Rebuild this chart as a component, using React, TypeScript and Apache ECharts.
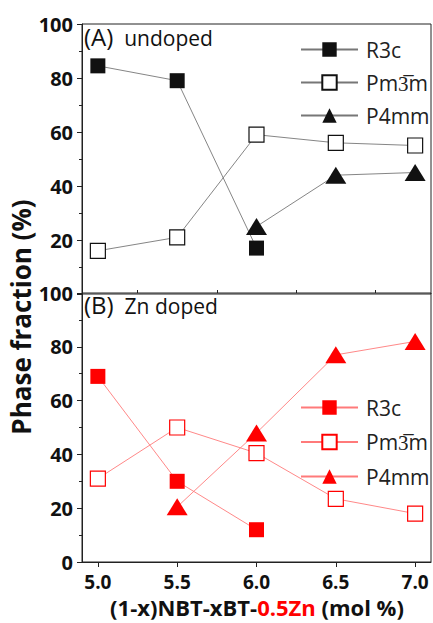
import React, { useEffect, useRef } from "react";
import * as echarts from "echarts";

const xValues = [5.0, 5.5, 6.0, 6.5, 7.0];
const xTickLabels = [5.0, 5.5, 6.0, 6.5, 7.0];
const xMinorTicks = [5.25, 5.75, 6.25, 6.75];
const phaseNames = ["R3c", "Pm3\u0305m", "P4mm"];

// Panel A (undoped)
const aR3c: (number | null)[] = [84.5, 79, 17, null, null];
const aPm3m: (number | null)[] = [16, 21, 59, 56, 55];
const aP4mm: (number | null)[] = [null, null, 25, 44, 45];

// Panel B (Zn doped)
const bR3c: (number | null)[] = [69, 30, 12, null, null];
const bPm3m: (number | null)[] = [31, 50, 40.5, 23.5, 18];
const bP4mm: (number | null)[] = [null, 20.5, 48, 77, 82];

const toPairs = (ys: (number | null)[]) =>
  xValues.map((x, i) => [x, ys[i] === null ? "-" : ys[i]]);

const FONT = "Open Sans";

export default function App() {
  const ref = useRef<HTMLDivElement>(null);
  useEffect(() => {
    if (!ref.current) return;
    const chart = echarts.init(ref.current, null, { renderer: "svg" });

    const gridLeft = 82;
    const gridW = 349;
    const black = "#111";
    const red = "#ff0000";
    const greyLine = "#777";
    const redLine = "#ff7a7a";

    const yAxisCommon = (gridIndex: number, hideZero: boolean) => ({
      type: "value",
      gridIndex,
      min: 0,
      max: 100,
      interval: 20,
      axisLine: { show: true, lineStyle: { color: "#222", width: 1 } },
      axisTick: { show: true, inside: false, length: 5, lineStyle: { color: "#222" } },
      minorTick: { show: true, splitNumber: 2, length: 3, lineStyle: { color: "#222" } },
      splitLine: { show: false },
      axisLabel: {
        fontFamily: FONT,
        fontWeight: "bold",
        fontSize: 20,
        color: black,
        margin: 9,
        formatter: (v: number) => (hideZero && v === 0 ? "" : String(v)),
      },
    });

    const mk = (
      name: string,
      ys: (number | null)[],
      symbol: string,
      size: any,
      color: string,
      lineColor: string,
      hollow: boolean,
      axisIdx: number
    ) => ({
      type: "line",
      name,
      xAxisIndex: axisIdx,
      yAxisIndex: axisIdx,
      data: toPairs(ys),
      symbol,
      symbolSize: size,
      showAllSymbol: true,
      connectNulls: false,
      lineStyle: { color: lineColor, width: 0.9 },
      itemStyle: hollow
        ? { color: "#fff", borderColor: color, borderWidth: 1.2 }
        : { color, borderColor: color, borderWidth: 0 },
      z: 3,
    });

    const legendCommon = {
      orient: "vertical",
      left: 295,
      itemWidth: 57,
      itemHeight: 18,
      formatter: (n: string) => phaseNames[["R3c", "Pm3m", "P4mm"].indexOf(n.slice(2))],
      textStyle: { fontFamily: FONT, fontSize: 21, lineHeight: 18, color: "#222", padding: [0, 0, 0, 3] },
    };

    const option: any = {
      animation: false,
      grid: [
        { left: gridLeft, top: 24, width: gridW, height: 270, show: true, borderColor: "#222", borderWidth: 1, backgroundColor: "transparent" },
        { left: gridLeft, top: 293, width: gridW, height: 269, show: true, borderColor: "#222", borderWidth: 1, backgroundColor: "transparent" },
      ],
      xAxis: [
        {
          type: "value",
          gridIndex: 0,
          min: 4.9,
          max: 7.1,
          axisLine: { show: false },
          axisTick: { show: false },
          axisLabel: { show: false },
          splitLine: { show: false },
        },
        {
          type: "value",
          gridIndex: 1,
          min: 4.9,
          max: 7.1,
          axisLine: { show: true, lineStyle: { color: "#222" } },
          axisTick: { show: true, length: 5, customValues: xTickLabels, lineStyle: { color: "#222" } },
          axisLabel: {
            customValues: xTickLabels,
            formatter: (v: number) => v.toFixed(1),
            fontFamily: FONT,
            fontWeight: "bold",
            fontSize: 19,
            color: black,
            margin: 10,
          },
          splitLine: { show: false },
        },
        {
          type: "value",
          gridIndex: 1,
          min: 4.9,
          max: 7.1,
          axisLine: { show: false },
          axisTick: { show: true, length: 3, customValues: xMinorTicks, lineStyle: { color: "#222" } },
          axisLabel: { show: false },
          splitLine: { show: false },
        },
      ],
      yAxis: [yAxisCommon(0, true), yAxisCommon(1, false)],
      legend: [
        { ...legendCommon, top: 34, itemGap: 12, data: ["A-R3c", "A-Pm3m", "A-P4mm"] },
        { ...legendCommon, top: 392, itemGap: 13.5, data: ["B-R3c", "B-Pm3m", "B-P4mm"] },
      ],
      series: [
        mk("A-R3c", aR3c, "rect", 15, black, greyLine, false, 0),
        mk("A-Pm3m", aPm3m, "rect", 15, black, greyLine, true, 0),
        mk("A-P4mm", aP4mm, "triangle", [21, 17], black, greyLine, false, 0),
        mk("B-R3c", bR3c, "rect", 15, red, redLine, false, 1),
        mk("B-Pm3m", bPm3m, "rect", 15, red, redLine, true, 1),
        mk("B-P4mm", bP4mm, "triangle", [21, 17], red, redLine, false, 1),
      ],
      graphic: [
        {
          type: "text",
          left: 84,
          top: 24,
          style: {
            text: "{b|(A)}{t|  undoped}",
            rich: {
              b: { fontFamily: FONT, fontSize: 24, fill: "#111", verticalAlign: "bottom" },
              t: { fontFamily: FONT, fontSize: 21, fill: "#111", verticalAlign: "bottom" },
            },
          },
        },
        {
          type: "text",
          left: 84,
          top: 292,
          style: {
            text: "{b|(B)}{t|  Zn doped}",
            rich: {
              b: { fontFamily: FONT, fontSize: 24, fill: "#111", verticalAlign: "bottom" },
              t: { fontFamily: FONT, fontSize: 21, fill: "#111", verticalAlign: "bottom" },
            },
          },
        },
        {
          type: "text",
          x: 21,
          y: 317,
          rotation: Math.PI / 2,
          style: {
            text: "Phase fraction (%)",
            fontFamily: FONT,
            fontWeight: "bold",
            fontSize: 26,
            fill: "#111",
            align: "center",
            verticalAlign: "middle",
          },
        },
        {
          type: "text",
          x: 257,
          y: 607,
          style: {
            text: "{a|(1-x)NBT-xBT-}{r|0.5Zn}{a| (mol %)}",
            align: "center",
            verticalAlign: "middle",
            rich: {
              a: { fontFamily: FONT, fontWeight: "bold", fontSize: 22, lineHeight: 24, fill: "#111" },
              r: { fontFamily: FONT, fontWeight: "bold", fontSize: 22, lineHeight: 24, fill: "#ff0000" },
            },
          },
        },
      ],
    };
    chart.setOption(option);
    return () => chart.dispose();
  }, []);
  return <div ref={ref} style={{ width: 433, height: 623, position: "absolute", left: 0, top: 0 }} />;
}
